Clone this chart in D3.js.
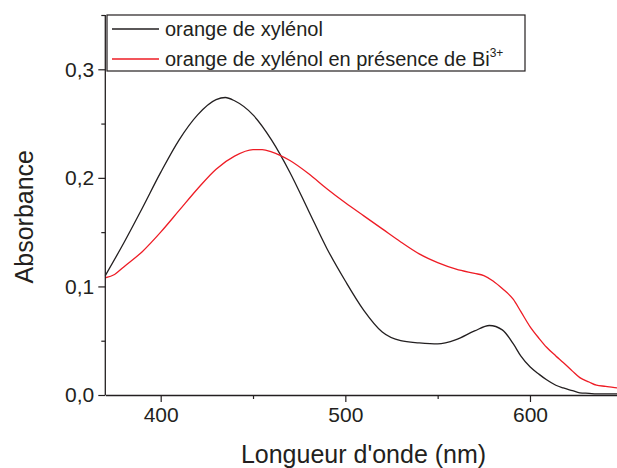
<!DOCTYPE html>
<html><head><meta charset="utf-8">
<script src="https://cdn.jsdelivr.net/npm/d3@7"></script>
<style>
html,body{margin:0;padding:0;background:#fff;}
svg{display:block;font-family:Arial,"Liberation Sans",sans-serif;}
</style></head>
<body>
<script>
// Data
const wavelengths = [370,380,390,400,410,420,430,435,440,450,460,470,480,490,500,510,520,530,540,550,560,570,578,585,591,595,600,605,609,614,618,623,627,632,636,641,645,650];
const xylenol =     [0.110,0.140,0.172,0.205,0.235,0.258,0.272,0.274,0.271,0.258,0.235,0.205,0.170,0.135,0.105,0.078,0.058,0.050,0.048,0.047,0.051,0.059,0.064,0.060,0.047,0.036,0.026,0.019,0.014,0.009,0.0065,0.004,0.002,0.0015,0.001,0.001,0.001,0.001];
const wavelengthsBi = [370,375,380,390,400,410,420,430,440,450,455,460,470,480,490,500,510,520,530,540,550,560,570,575,580,585,591,595,600,605,609,614,618,623,627,632,636,641,645,650];
const xylenolBi =     [0.108,0.111,0.118,0.132,0.150,0.170,0.190,0.208,0.220,0.226,0.226,0.224,0.216,0.204,0.190,0.177,0.165,0.153,0.141,0.130,0.122,0.116,0.112,0.110,0.105,0.098,0.088,0.077,0.063,0.052,0.044,0.036,0.030,0.022,0.016,0.012,0.009,0.008,0.007,0.006];
const xMajorTicks = [400,500,600];
const xMinorTicks = [450,550,650];
const yMajorTicks = [0.0,0.1,0.2,0.3];
const yMinorTicks = [0.05,0.15,0.25,0.35];
const legendLabels = ["orange de xylénol","orange de xylénol en présence de Bi"];
const colors = ["#231f20","#ee1c25"];

const W = 617, H = 468;
const svg = d3.select("body").append("svg").attr("width",W).attr("height",H);
const x = d3.scaleLinear().domain([370,650]).range([105.3,622.3]);
const y = d3.scaleLinear().domain([0,0.35]).range([395,15]);
const fmt = d => d3.format(".1f")(d).replace(".",",");
const ink = "#231f20";

// curves
const series = [
  {xs: wavelengths, ys: xylenol, c: colors[0]},
  {xs: wavelengthsBi, ys: xylenolBi, c: colors[1]}
];
const line = d3.line().x(d=>x(d[0])).y(d=>y(d[1])).curve(d3.curveMonotoneX);
series.forEach(s=>{
  svg.append("path").datum(s.xs.map((v,i)=>[v,s.ys[i]]))
    .attr("d",line).attr("fill","none").attr("stroke",s.c).attr("stroke-width",1.3);
});

// axes
const xAxis = svg.append("g").attr("transform",`translate(0,${y(0)})`)
  .call(d3.axisBottom(x).tickValues(xMajorTicks).tickSize(7).tickSizeOuter(0).tickPadding(5).tickFormat(d3.format("d")));
svg.append("g").attr("transform",`translate(0,${y(0)})`)
  .call(d3.axisBottom(x).tickValues(xMinorTicks).tickSize(4).tickSizeOuter(0).tickFormat(""))
  .select(".domain").remove();
const yAxis = svg.append("g").attr("transform",`translate(${x(370)},0)`)
  .call(d3.axisLeft(y).tickValues(yMajorTicks).tickSize(7).tickSizeOuter(0).tickPadding(4).tickFormat(fmt));
svg.append("g").attr("transform",`translate(${x(370)},0)`)
  .call(d3.axisLeft(y).tickValues(yMinorTicks).tickSize(4).tickSizeOuter(0).tickFormat(""))
  .select(".domain").remove();
svg.selectAll(".domain").attr("stroke",ink).attr("stroke-width",1.3);
svg.selectAll(".tick line").attr("stroke",ink).attr("stroke-width",1.2);
svg.selectAll(".tick text").attr("fill",ink).attr("font-size",21).attr("font-family","Arial,'Liberation Sans',sans-serif");
// y domain must reach top
yAxis.select(".domain").attr("d",`M0,${y(0)}V${y(0.35)}`);

// axis titles
svg.append("text").attr("x",363.5).attr("y",463).attr("text-anchor","middle")
  .attr("font-size",25).attr("fill",ink).text("Longueur d'onde (nm)");
svg.append("text").attr("transform","translate(33,216.7) rotate(-90)").attr("text-anchor","middle")
  .attr("font-size",25).attr("fill",ink).text("Absorbance");

// legend
const lg = svg.append("g");
lg.append("rect").attr("x",107).attr("y",15).attr("width",418).attr("height",56)
  .attr("fill","#fff").attr("stroke",ink).attr("stroke-width",1.2);
legendLabels.forEach((t,i)=>{
  const yy = 29 + i*30;
  lg.append("line").attr("x1",112).attr("x2",159).attr("y1",yy).attr("y2",yy)
    .attr("stroke",colors[i]).attr("stroke-width",1.3);
  const tx = lg.append("text").attr("x",165).attr("y",yy+7).attr("font-size",20).attr("fill",ink).text(t);
  if(i===1){
    tx.append("tspan").attr("font-size",12).attr("dy",-9).text("3+");
  }
});
</script>
</body></html>
